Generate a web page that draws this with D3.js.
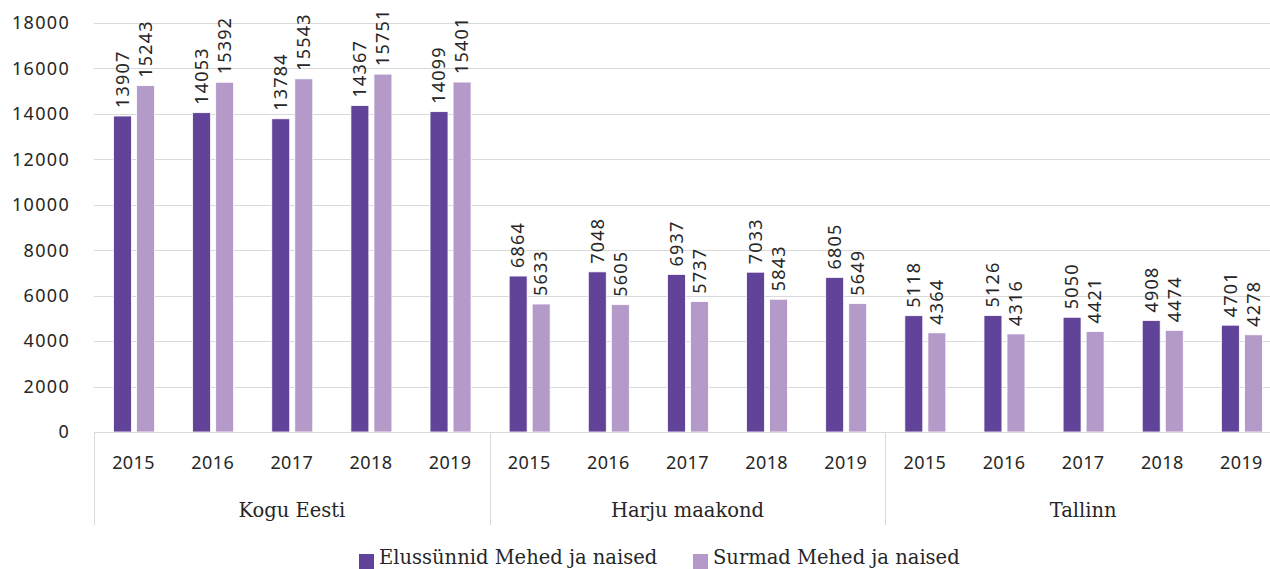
<!DOCTYPE html>
<html><head><meta charset="utf-8">
<script src="https://cdn.jsdelivr.net/npm/d3@7"></script>
<style>
html,body{margin:0;padding:0;background:#fff;overflow:hidden}
svg{display:block}
</style></head>
<body>
<svg id="c" width="1270" height="569"></svg>
<script>
const groups = ["Kogu Eesti", "Harju maakond", "Tallinn"];
const years = ["2015", "2016", "2017", "2018", "2019"];
const seriesNames = ["Elussünnid Mehed ja naised", "Surmad Mehed ja naised"];
const births = [13907, 14053, 13784, 14367, 14099, 6864, 7048, 6937, 7033, 6805, 5118, 5126, 5050, 4908, 4701];
const deaths = [15243, 15392, 15543, 15751, 15401, 5633, 5605, 5737, 5843, 5649, 4364, 4316, 4421, 4474, 4278];
const yTicks = [0, 2000, 4000, 6000, 8000, 10000, 12000, 14000, 16000, 18000];
const colors = ["#61439a", "#b49ac9"];

(function () {
const svg = d3.select("#c");
const mLeft = 94, mRight = 1281, mTop = 23, mBottom = 432;
const numFont = "'Noto Sans', sans-serif";
const serifFont = "'DejaVu Serif', serif";

const keys = [];
groups.forEach(g => years.forEach(y => keys.push(g + "|" + y)));
const x = d3.scaleBand().domain(keys).range([mLeft, mRight]).padding(0);
const xs = d3.scaleBand().domain([0, 1]).range([19.5, 60.5]).paddingInner(0.22);
const y = d3.scaleLinear().domain([0, 18000]).range([mBottom, mTop]);
const gx = d3.scaleBand().domain(groups).range([mLeft, mRight]).padding(0);

// gridlines
svg.append("g").selectAll("line").data(yTicks.filter(t => t > 0)).join("line")
  .attr("x1", mLeft).attr("x2", mRight)
  .attr("y1", d => Math.round(y(d)) + 0.5).attr("y2", d => Math.round(y(d)) + 0.5)
  .attr("stroke", "#d9d9d9").attr("stroke-width", 1);

// y tick labels
svg.append("g").selectAll("text").data(yTicks).join("text")
  .attr("x", 70).attr("y", d => y(d)).attr("dy", "0.35em")
  .attr("text-anchor", "end")
  .attr("font-family", numFont).attr("font-size", 18).attr("letter-spacing", 1.3)
  .attr("fill", "#262626").text(d => d);

// bars
const data = [];
keys.forEach((k, i) => {
  data.push({k, s: 0, v: births[i]});
  data.push({k, s: 1, v: deaths[i]});
});
svg.append("g").selectAll("rect").data(data).join("rect")
  .attr("x", d => x(d.k) + xs(d.s))
  .attr("width", xs.bandwidth())
  .attr("y", d => y(d.v))
  .attr("height", d => y(0) - y(d.v))
  .attr("fill", d => colors[d.s])
  .attr("stroke", "#ffffff").attr("stroke-width", 0.8);

// data labels
svg.append("g").selectAll("text").data(data).join("text")
  .attr("transform", d => `translate(${x(d.k) + xs(d.s) + xs.bandwidth() / 2},${y(d.v) - 8}) rotate(-90)`)
  .attr("dy", "0.35em")
  .attr("text-anchor", "start")
  .attr("font-family", numFont).attr("font-size", 18).attr("letter-spacing", 1.2)
  .attr("fill", "#262626").text(d => d.v);

// x axis line
svg.append("line").attr("x1", mLeft).attr("x2", mRight)
  .attr("y1", mBottom + 0.5).attr("y2", mBottom + 0.5)
  .attr("stroke", "#d9d9d9").attr("stroke-width", 1.2);

// group separators
svg.append("g").selectAll("line").data(groups).join("line")
  .attr("x1", d => Math.round(gx(d)) + 0.5).attr("x2", d => Math.round(gx(d)) + 0.5)
  .attr("y1", mBottom).attr("y2", 525)
  .attr("stroke", "#d9d9d9").attr("stroke-width", 1);

// year labels
svg.append("g").selectAll("text").data(keys).join("text")
  .attr("x", d => x(d) + x.bandwidth() / 2).attr("y", 469)
  .attr("text-anchor", "middle")
  .attr("font-family", numFont).attr("font-size", 18).attr("letter-spacing", 0.4)
  .attr("fill", "#262626").text(d => d.split("|")[1]);

// group labels
svg.append("g").selectAll("text").data(groups).join("text")
  .attr("x", d => gx(d) + gx.bandwidth() / 2).attr("y", 517)
  .attr("text-anchor", "middle")
  .attr("font-family", serifFont).attr("font-size", 19.5)
  .attr("fill", "#262626").text(d => d);

// legend
const legX = [359, 693];
const leg = svg.append("g").selectAll("g").data(seriesNames).join("g")
  .attr("transform", (d, i) => `translate(${legX[i]},554)`);
leg.append("rect").attr("width", 15).attr("height", 15).attr("fill", (d, i) => colors[i]);
leg.append("text").attr("x", 20).attr("y", 10)
  .attr("font-family", serifFont).attr("font-size", 19.5)
  .attr("fill", "#262626").text(d => d);
})();
</script>
</body></html>
